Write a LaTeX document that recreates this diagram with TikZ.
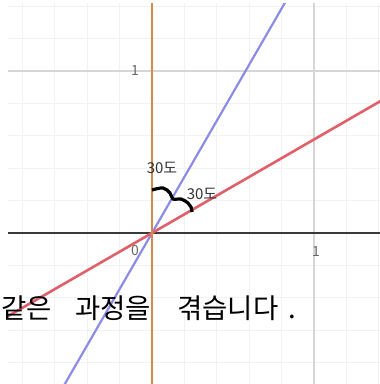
\documentclass[tikz,border=0pt]{standalone}
\usepackage{fontspec}
\newfontfamily\kr{Noto Sans CJK KR}
\usetikzlibrary{calc}
\definecolor{gridminor}{HTML}{F2F2F2}
\definecolor{gridmajor}{HTML}{D6D6D6}
\definecolor{orangeline}{HTML}{D9894A}
\definecolor{blueline}{HTML}{8C8CE6}
\definecolor{redline}{HTML}{E0606A}
\definecolor{axisgray}{HTML}{3A3A3A}
\tikzset{
  minor/.style={draw=gridminor, line width=1pt},
  major/.style={draw=gridmajor, line width=1.2pt},
  axisline/.style={draw=axisgray, line width=1.5pt},
  ticklabel/.style={font=\kr\fontsize{14}{14}\selectfont, text=black!60, inner sep=0pt},
  anglelabel/.style={font=\kr\fontsize{15}{15}\selectfont, text=black!80, inner sep=0pt},
  graphline/.style={line width=2.6pt},
}
\begin{document}
\begin{tikzpicture}[x=1pt,y=-1pt]
\useasboundingbox[fill=white] (0,0) rectangle (380,384);
\coordinate (O) at (152,233);
\begin{scope}
\clip (8,3) rectangle (380,384);
\foreach \i in {-5,...,7} \draw[minor] ({152+32.4*\i},0) -- ({152+32.4*\i},384);
\foreach \i in {-8,...,5} \draw[minor] (0,{233+32.4*\i}) -- (380,{233+32.4*\i});
\draw[major] (314,0) -- (314,384);
\draw[major] (0,71) -- (380,71);
\draw[axisline] (0,233) -- (380,233);
\draw[graphline, draw=blueline, line width=2.2pt] ($(O)+(120:220)$) -- ($(O)+(-60:300)$);
\draw[graphline, draw=redline] ($(O)+(150:300)$) -- ($(O)+(-30:300)$);
\draw[graphline, draw=orangeline] (152,0) -- (152,384);
\end{scope}
\node[ticklabel] (ylab) at (135,71) {1};
\node[ticklabel] (xlab) at (316,252) {1};
\node[ticklabel] (olab) at (135,251) {0};
\node[anglelabel] (a1) at (162,168) {30도};
\node[anglelabel] (a2) at (202,194) {30도};
\draw[line width=3.2pt, black] plot[smooth, tension=0.6] coordinates {(152,190) (163,188) (170,193) (173,199) (181,199) (188,203) (191,207) (192,212)};
\node[anchor=base west, inner sep=0pt, font=\kr\fontsize{27.5}{27.5}\selectfont] (txt) at (1,318) {같은\hspace{0.85em}과정을\hspace{0.95em}겪습니다\hspace{0.35em}.};
\end{tikzpicture}
\end{document}
